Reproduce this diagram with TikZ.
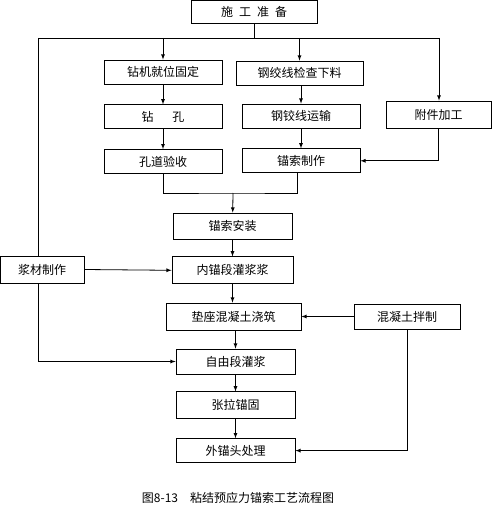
\documentclass[tikz,border=0pt]{standalone}
\usepackage{fontspec}
\newfontfamily\cjk{Noto Sans CJK SC}
\usepackage{tikz}
\usetikzlibrary{positioning}

\begin{document}
\begin{tikzpicture}[
        x=1pt, y=-1pt,
        node distance=19pt and 20pt,
        box/.style={rectangle, draw, line width=0.8pt, minimum width=118pt, minimum height=24pt, inner sep=0pt, align=center, font=\cjk\fontsize{12}{14}\selectfont},
        arrow/.style={-latex, line width=0.8pt},
        line/.style={line width=0.8pt}
    ]
        \useasboundingbox (0,0) rectangle (492,524);

        \node[box, minimum width=126pt, minimum height=23pt] (prep) at (254,11.5) {施\hspace{6pt}工\hspace{6pt}准\hspace{6pt}备};
        \node[box] (drillfix) at (163,72) {钻机就位固定};
        \node[box, below=20pt of {drillfix}] (drill) {钻\hspace{19pt}孔};
        \node[box, below=20pt of {drill}] (holecheck) {孔道验收};
        \node[box, minimum width=127pt] (strandcut) at (299.5,73) {钢绞线检查下料};
        \node[box] (strandmove) at (301,116) {钢铰线运输};
        \node[box, below=20pt of {strandmove}] (cablemake) {锚索制作};
        \node[box, minimum width=105pt, minimum height=27pt] (fitting) at (438.5,114.5) {附件加工};

        \node[box, minimum width=119pt, minimum height=26pt] (cableinstall) at (232.5,226) {锚索安装};
        \node[box, minimum width=121pt, minimum height=27pt, below=17pt of {cableinstall}] (innergrout) {内锚段灌浆浆};
        \node[box, minimum width=84pt, minimum height=27pt] (groutmix) at (42,269.5) {浆材制作};
        \node[box, minimum width=135pt, minimum height=27pt] (padpour) at (233.5,316.5) {垫座混凝土浇筑};
        \node[box, minimum width=106pt, minimum height=25pt] (concretemix) at (407,316.5) {混凝土拌制};
        \node[box, minimum width=119pt, minimum height=25pt] (freegrout) at (235.5,361.5) {自由段灌浆};
        \node[box, minimum width=119pt, minimum height=27pt, below=17pt of {freegrout}] (tension) {张拉锚固};
        \node[box, minimum width=119pt, below=19pt of {tension}] (outerhead) {外锚头处理};

        \node[font=\cjk\fontsize{12}{14}\selectfont] (caption) at (238,498) {图8-13\hspace{12pt}粘结预应力锚索工艺流程图};

        \coordinate (split) at (254,38);
        \coordinate (lefttop) at (38,38);
        \coordinate (righttop) at (439,38);
        \coordinate (merge) at (233,193);

        \draw[line] (prep) -- (split);
        \draw[line] (lefttop) -- (righttop);
        \draw[arrow] (drillfix.north |- split) -- (drillfix);
        \draw[arrow] (strandcut.north |- split) -- (strandcut);
        \draw[arrow] (righttop) -- (righttop |- fitting.north);
        \draw[line] (lefttop) -- (lefttop |- groutmix.north);

        \draw[arrow] (drillfix) -- (drill);
        \draw[arrow] (drill) -- (holecheck);
        \draw[arrow] (strandcut.south -| strandmove) -- (strandmove);
        \draw[arrow] (strandmove) -- (cablemake);
        \draw[arrow] (fitting.south) |- (cablemake.east);

        \draw[line] (holecheck.south) |- (merge) -| ([xshift=-4pt]cablemake.south);
        \draw[arrow] (merge) -- (cableinstall);
        \draw[arrow] (cableinstall) -- (innergrout);
        \draw[arrow] (groutmix.east) -- (innergrout.west);
        \draw[arrow] (innergrout) -- (innergrout.south |- padpour.north);
        \draw[arrow] (concretemix.west) -- (padpour.east);
        \draw[arrow] (groutmix.south -| lefttop) |- (freegrout.west);
        \draw[arrow] (padpour.south -| freegrout) -- (freegrout);
        \draw[arrow] (freegrout) -- (tension);
        \draw[arrow] (tension) -- (outerhead);
        \draw[arrow] (concretemix.south) |- (outerhead.east);
    \end{tikzpicture}
\end{document}
